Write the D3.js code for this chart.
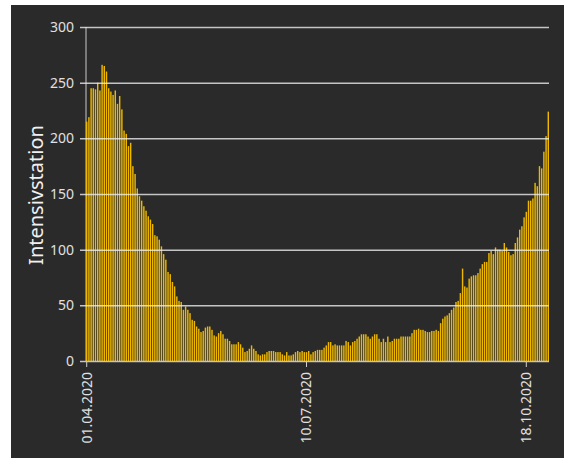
<!DOCTYPE html>
<html>
<head>
<meta charset="utf-8">
<script src="https://cdn.jsdelivr.net/npm/d3@7"></script>
<style>
    body { margin: 0; background: #fff; }
    svg { display: block; }
    text { font-family: "Noto Sans", "Open Sans", sans-serif; }
</style>
</head>
<body>
<svg id="chart" width="564" height="462"></svg>
<script>
// daily ICU counts, 01.04.2020 .. 28.10.2020
const startDate = "2020-04-01";
const valuesApr = [215, 219, 245, 245, 244, 250, 243, 266, 265, 260, 245, 242, 239, 243, 231,
    238, 226, 207, 204, 193, 196, 175, 168, 155, 148, 144, 139, 135, 130, 127, 123, 113, 112,
    109, 103, 96, 91, 80, 78, 71, 67, 58, 54, 53];
const valuesSummer = [46, 49, 46, 43, 37, 36, 31, 29, 26, 27,
    30, 31, 31, 28, 23, 22, 25, 27, 24, 20,
    20, 18, 15, 15, 15, 17, 15, 12, 8, 9,
    11, 14, 11, 9, 6, 5, 6, 6, 8, 9,
    9, 9, 8, 8, 8, 6, 5, 8, 5, 5,
    6, 8, 9, 8, 9];
const valuesLate = [8, 8, 9, 6, 8, 9, 10, 10, 10, 12,
    14, 17, 17, 14, 15, 14, 14, 14, 14, 18,
    17, 14, 17, 18, 20, 22, 24, 24, 24, 22,
    20, 22, 24, 24, 20, 17, 20, 17, 22, 17,
    18, 20, 20, 20, 22, 22, 22, 22, 22, 25,
    28, 28, 29, 28, 28, 27, 26, 26];
const valuesAutumn = [27, 27, 28, 27, 34, 38, 40, 41, 43, 46,
    48, 53, 54, 61, 83, 67, 66, 74, 76, 77,
    77, 79, 83, 87, 89, 89, 97, 99, 96, 102,
    100, 100, 99, 106, 102, 98, 95, 96, 106, 111,
    118, 121, 129, 134, 144, 144, 146, 160, 157, 175,
    173, 188, 202, 224];
const yTicks = [0, 50, 100, 150, 200, 250, 300];
const yLabel = "Intensivstation";

const values = valuesApr.concat(valuesSummer, valuesLate, valuesAutumn);
const day0 = d3.timeParse("%Y-%m-%d")(startDate);
const rows = values.map((v, i) => ({ date: d3.timeDay.offset(day0, i), value: v }));
const fmt = d3.timeFormat("%d.%m.%Y");

const svg = d3.select("#chart");
const plotLeft = 86, plotRight = 549, plotTop = 27, plotBottom = 361;

svg.append("rect")
    .attr("x", 11).attr("y", 5)
    .attr("width", 553).attr("height", 453)
    .attr("fill", "#2a2a2a");

const x = d3.scaleBand()
    .domain(rows.map(d => d.date))
    .range([plotLeft, plotRight])
    .paddingInner(0.35)
    .paddingOuter(0);

const y = d3.scaleLinear().domain([0, 300]).range([plotBottom, plotTop]);

// left axis line (bars sit on top of it)
svg.append("line")
    .attr("x1", plotLeft).attr("x2", plotLeft)
    .attr("y1", plotTop).attr("y2", plotBottom)
    .attr("stroke", "#c8c8c8").attr("stroke-width", 1);

svg.append("g")
    .selectAll("rect")
    .data(rows)
    .enter()
    .append("rect")
    .attr("x", d => x(d.date))
    .attr("y", d => y(d.value))
    .attr("width", x.bandwidth())
    .attr("height", d => y(0) - y(d.value))
    .attr("fill", "#eeb800");

// gridlines + y labels
const yAxis = d3.axisLeft(y)
    .tickValues(yTicks)
    .tickSize(0)
    .tickPadding(6);

svg.append("g")
    .attr("transform", "translate(" + (plotLeft - 6) + ",0)")
    .call(yAxis)
    .call(g => g.select(".domain").remove())
    .call(g => g.selectAll(".tick line")
        .attr("x1", 0)
        .attr("x2", plotRight - plotLeft + 6)
        .attr("stroke", "#ececec")
        .attr("stroke-opacity", 0.8)
        .attr("stroke-width", 1.5))
    .call(g => g.selectAll(".tick text")
        .attr("fill", "#e0e0e0")
        .style("font-size", "14px"));

// x axis: one label every 100 days
const xTicks = rows.filter((d, i) => i % 100 === 0).map(d => d.date);
const xAxis = d3.axisBottom(x)
    .tickValues(xTicks)
    .tickFormat(fmt)
    .tickSize(5)
    .tickPadding(4);

svg.append("g")
    .attr("transform", "translate(0," + (plotBottom + 1) + ")")
    .call(xAxis)
    .call(g => g.select(".domain").remove())
    .call(g => g.selectAll(".tick line").attr("stroke", "#d0d0d0"))
    .call(g => g.selectAll(".tick text")
        .attr("fill", "#e0e0e0")
        .style("font-size", "14px")
        .attr("text-anchor", "end")
        .attr("transform", "rotate(-90)")
        .attr("x", -10)
        .attr("y", 0)
        .attr("dy", "0.35em"));

svg.append("text")
    .attr("transform", "translate(43,195) rotate(-90)")
    .attr("text-anchor", "middle")
    .attr("fill", "#f0f0f0")
    .style("font-size", "20px")
    .text(yLabel);
</script>
</body>
</html>
